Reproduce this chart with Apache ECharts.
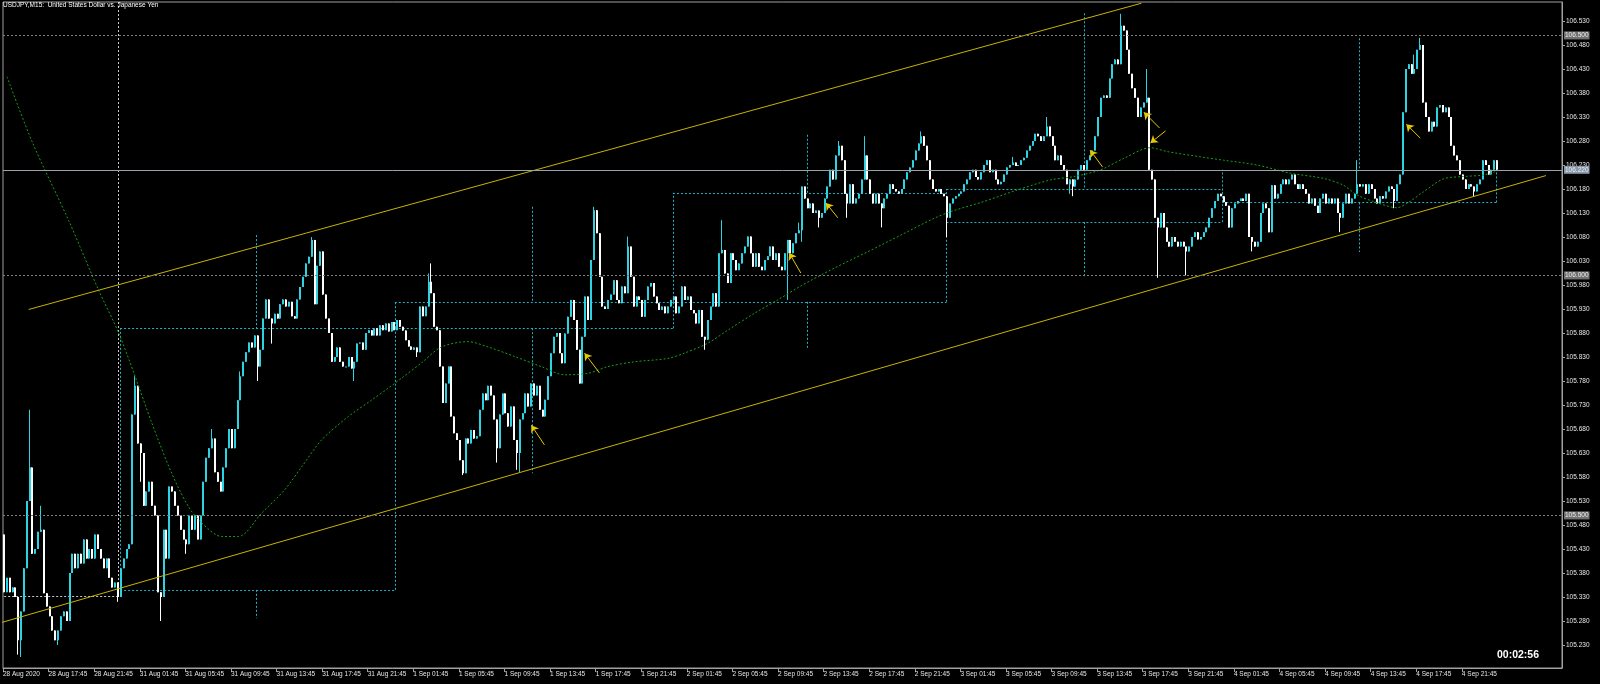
<!DOCTYPE html>
<html><head><meta charset="utf-8">
<script src="https://cdn.jsdelivr.net/npm/echarts@6/dist/echarts.min.js"></script>
<style>html,body{margin:0;padding:0;background:#000;}#c{width:1600px;height:684px;}</style>
</head><body><div id="c"></div><script>
// ---- data (bar index = 15-minute bars from 28 Aug 2020 13:45) ----
const open0 = 105.46;
const closes = [
105.34,105.37,105.34,105.35,105.33,105.24,105.30,105.39,105.53,105.60,
105.42,105.43,105.466,105.47,105.338,105.31,105.29,105.26,105.24,105.26,
105.29,105.30,105.28,105.38,105.42,105.39,105.42,105.40,105.45,105.41,
105.43,105.41,105.46,105.43,105.41,105.39,105.41,105.37,105.35,105.36,
105.33,105.39,105.41,105.43,105.44,105.71,105.77,105.65,105.63,105.52,
105.55,105.57,105.52,105.50,105.34,105.33,105.47,105.41,105.56,105.55,
105.52,105.50,105.47,105.45,105.44,105.50,105.47,105.50,105.45,105.50,
105.57,105.62,105.64,105.66,105.59,105.57,105.55,105.60,105.64,105.68,
105.64,105.68,105.74,105.79,105.82,105.84,105.86,105.85,105.875,105.81,
105.845,105.91,105.95,105.91,105.90,105.92,105.91,105.94,105.95,105.935,
105.945,105.915,105.91,105.95,105.976,105.997,106.025,106.039,106.074,105.94,
106.02,106.05,105.96,105.91,105.88,105.82,105.83,105.85,105.82,105.81,
105.81,105.83,105.806,105.82,105.858,105.86,105.845,105.88,105.886,105.875,
105.89,105.875,105.896,105.886,105.90,105.883,105.903,105.886,105.907,105.893,
105.885,105.865,105.852,105.845,105.85,105.84,105.935,105.915,105.935,105.987,
105.963,105.893,105.886,105.81,105.734,105.775,105.81,105.706,105.671,105.657,
105.615,105.588,105.66,105.65,105.678,105.66,105.665,105.72,105.754,105.74,
105.77,105.75,105.70,105.64,105.71,105.754,105.713,105.685,105.727,105.657,
105.63,105.70,105.713,105.754,105.727,105.775,105.75,105.77,105.72,105.706,
105.741,105.79,105.838,105.872,105.88,105.838,105.817,105.879,105.914,105.949,
105.907,105.845,105.775,105.872,105.956,105.907,106.032,106.136,106.088,105.997,
105.935,105.93,105.949,105.96,105.99,105.949,105.942,105.977,105.963,106.06,
105.997,105.935,105.956,105.949,105.914,105.949,105.977,105.984,105.956,105.942,
105.928,105.935,105.921,105.935,105.949,105.956,105.921,105.935,105.977,105.949,
105.956,105.928,105.921,105.90,105.928,105.872,105.866,105.907,105.935,105.963,
105.935,106.046,106.053,106.004,105.984,106.046,106.032,106.011,106.025,106.046,
106.06,106.081,106.046,106.018,106.046,106.018,106.011,106.032,106.04,106.06,
106.032,106.046,106.018,106.011,106.046,106.074,106.046,106.067,106.088,106.094,
106.185,106.16,106.14,106.15,106.13,106.135,106.12,106.13,106.16,106.185,
106.22,106.20,106.25,106.27,106.24,106.17,106.15,106.19,106.15,106.16,
106.17,106.20,106.25,106.20,106.17,106.15,106.17,106.15,106.14,106.16,
106.17,106.19,106.18,106.175,106.17,106.18,106.20,106.215,106.225,106.24,
106.26,106.275,106.29,106.27,106.24,106.20,106.18,106.175,106.18,106.17,
106.165,106.12,106.15,106.16,106.165,106.17,106.175,106.19,106.20,106.215,
106.22,106.205,106.20,106.215,106.23,106.24,106.215,106.22,106.20,106.19,
106.195,106.21,106.225,106.23,106.235,106.228,106.23,106.24,106.245,106.26,
106.27,106.28,106.295,106.29,106.28,106.29,106.31,106.29,106.27,106.24,
106.25,106.23,106.22,106.19,106.20,106.185,106.20,106.22,106.23,106.22,
106.24,106.25,106.26,106.29,106.33,106.37,106.375,106.37,106.41,106.44,
106.45,106.44,106.52,106.51,106.47,106.42,106.39,106.37,106.33,106.35,
106.36,106.37,106.22,106.20,106.12,106.10,106.13,106.10,106.07,106.06,
106.08,106.07,106.06,106.07,106.06,106.05,106.06,106.08,106.09,106.075,
106.08,106.09,106.10,106.12,106.14,106.155,106.17,106.165,106.153,106.145,
106.10,106.14,106.15,106.155,106.16,106.155,106.17,106.08,106.07,106.06,
106.07,106.13,106.15,106.14,106.09,106.188,106.16,106.17,106.19,106.20,
106.19,106.20,106.21,106.19,106.18,106.19,106.18,106.17,106.15,106.16,
106.145,106.13,106.16,106.17,106.15,106.16,106.15,106.16,106.13,106.12,
106.15,106.17,106.15,106.16,106.17,106.19,106.185,106.19,106.17,106.19,
106.18,106.16,106.15,106.165,106.16,106.175,106.185,106.18,106.155,106.19,
106.21,106.34,106.43,106.44,106.42,106.43,106.47,106.48,106.36,106.33,
106.30,106.32,106.31,106.35,106.355,106.34,106.35,106.33,106.27,106.25,
106.24,106.21,106.20,106.18,106.19,106.185,106.175,106.19,106.20,106.24,
106.23,106.21,106.22,106.24,106.22
];
const highs = [[9,105.72],[13,105.52],[46,105.79],[73,105.68],[83,105.80],[108,106.08],[149,106.004],[150,106.025],
  [207,106.143],[219,106.081],[252,106.115],[279,106.11],[293,106.28],[302,106.29],[322,106.30],[354,106.247],
  [366,106.33],[392,106.545],[401,106.43],[475,106.24],[495,106.46],[497,106.495]];
const lows = [[5,105.21],[6,105.205],[19,105.23],[40,105.32],[48,105.57],[55,105.28],[64,105.42],[89,105.78],
  [94,105.858],[123,105.78],[145,105.83],[161,105.584],[173,105.61],[180,105.595],[181,105.59],[246,105.845],
  [275,105.949],[280,106.07],[286,106.10],[296,106.12],[308,106.10],[331,106.08],[374,106.17],[375,106.165],
  [405,105.995],[415,106.0],[438,106.05],[469,106.09],[488,106.14],[516,106.165]];
const timeLabels = ['28 Aug 2020','28 Aug 17:45','28 Aug 21:45','31 Aug 01:45','31 Aug 05:45','31 Aug 09:45','31 Aug 13:45',
  '31 Aug 17:45','31 Aug 21:45','1 Sep 01:45','1 Sep 05:45','1 Sep 09:45','1 Sep 13:45','1 Sep 17:45','1 Sep 21:45',
  '2 Sep 01:45','2 Sep 05:45','2 Sep 09:45','2 Sep 13:45','2 Sep 17:45','2 Sep 21:45','3 Sep 01:45','3 Sep 05:45',
  '3 Sep 09:45','3 Sep 13:45','3 Sep 17:45','3 Sep 21:45','4 Sep 01:45','4 Sep 05:45','4 Sep 09:45','4 Sep 13:45',
  '4 Sep 17:45','4 Sep 21:45'];
const timeLabelBars = [0,16,32,48,64,80,96,112,128,144,160,176,192,208,224,240,256,272,288,304,320,336,352,368,384,400,416,432,448,464,480,496,512];
const priceTicks = [105.23,105.28,105.33,105.38,105.43,105.48,105.53,105.58,105.63,105.68,105.73,105.78,105.83,105.88,
  105.93,105.98,106.03,106.08,106.13,106.18,106.23,106.28,106.33,106.38,106.43,106.48,106.53];
const levels = [106.5, 106.0, 105.5];
const bid = 106.22;
const maLine = [[1.4,106.414],[10.4,106.276],[23.0,106.115],[33.5,105.970],[40.6,105.880],[46.4,105.789],[52.2,105.693],
  [59.2,105.588],[65.1,105.518],[69.8,105.484],[76.8,105.456],[82.6,105.456],[90.8,105.505],[98.8,105.553],[104.8,105.601],
  [111.8,105.657],[121.2,105.706],[129.3,105.740],[135.2,105.765],[139.9,105.786],[146.9,105.818],[153.9,105.851],
  [163.2,105.862],[170.2,105.851],[179.6,105.831],[188.9,105.810],[197.1,105.793],[205.3,105.796],[212.3,105.810],
  [221.6,105.820],[233.3,105.827],[239.1,105.838],[247.4,105.859],[254.4,105.886],[263.7,105.921],[271.9,105.949],
  [280.0,105.978],[291.7,106.015],[303.4,106.049],[315.1,106.084],[326.8,106.119],[332.6,106.133],[344.3,106.154],
  [356.0,106.178],[367.7,106.199],[375.9,106.206],[385.2,106.220],[393.4,106.244],[402.7,106.266],[408.6,106.258],
  [420.3,106.247],[428.4,106.240],[440.1,106.230],[451.8,106.213],[463.5,106.202],[470.4,106.188],[475.1,106.168],
  [481.0,106.154],[489.2,106.141],[492.7,106.150],[498.5,106.174],[505.5,106.201],[512.6,106.206],[519.5,106.209],[523.6,106.216]];
const channel = [[[9,105.929],[399.5,106.567]], [[-1,105.276],[541.5,106.208]]];
// day boxes: [startBar, endBar, lowPrice, highPrice]
const dayBoxes = [[41.1,137.5,105.345,105.89],[137.5,235.1,105.89,105.945],[235.1,331.1,105.945,106.172],
  [331.1,427.9,106.111,106.18],[427.9,524.2,106.152,106.22]];
// day mid marks: [bar, dayHigh, dayLow]
const dayMid = [[89.0,106.084,105.286],[185.7,106.143,105.588],[282.4,106.293,105.845],[379.4,106.546,105.994],[476.1,106.494,106.049]];
// arrows: [tailBar, tailPrice, headBar, headPrice]
const arrows = [[190.0,105.647,185.4,105.688],[209.3,105.797,204.1,105.838],[280.0,106.005,275.9,106.047],
  [293.0,106.120,288.8,106.151],[385.9,106.226,381.5,106.261],[405.9,106.307,400.4,106.340],
  [408.0,106.301,402.7,106.276],[497.4,106.286,492.5,106.315]];
const crossBar = 40.6, crossPrice = 105.331;

// ---- build ----
const hiMap = Object.fromEntries(highs), loMap = Object.fromEntries(lows);
const candles = closes.map((c, i) => {
  const o = i ? closes[i - 1] : open0;
  let h = Math.max(o, c), l = Math.min(o, c);
  if (hiMap[i] !== undefined) h = Math.max(h, hiMap[i]);
  if (loMap[i] !== undefined) l = Math.min(l, loMap[i]);
  return [i, o, c, l, h];
});
const YMIN = 105.1821, YMAX = 106.5696, XMAX = 547.14;
const boxSegs = [];
dayBoxes.forEach(b => {
  boxSegs.push([[b[0], b[2]], [b[1], b[2]]], [[b[0], b[3]], [b[1], b[3]]], [[b[0], b[2]], [b[0], b[3]]], [[b[1], b[2]], [b[1], b[3]]]);
});
dayMid.forEach((m, k) => {
  const b = dayBoxes[k];
  boxSegs.push([[m[0], m[1]], [m[0], b[3]]], [[m[0], b[2]], [m[0], m[2]]]);
});
const crossSegs = [[[crossBar, YMAX], [crossBar, crossPrice]], [[-1, crossPrice], [crossBar, crossPrice]]];
const UP = '#2cd3e2', DOWN = '#ffffff';
const FONT = 'Liberation Sans';

function renderCandle(params, api) {
  const i = api.value(0), o = api.value(1), c = api.value(2), l = api.value(3), h = api.value(4);
  const pO = api.coord([i, o]), pC = api.coord([i, c]), pL = api.coord([i, l]), pH = api.coord([i, h]);
  const col = c >= o ? UP : DOWN;
  const x = Math.round(pO[0]);
  const top = Math.min(pO[1], pC[1]), bot = Math.max(pO[1], pC[1]);
  return { type: 'group', children: [
    { type: 'line', shape: { x1: x + 0.5, y1: pH[1], x2: x + 0.5, y2: pL[1] }, style: { stroke: col, lineWidth: 1 } },
    { type: 'rect', shape: { x: x, y: top, width: 2, height: Math.max(1, bot - top) }, style: { fill: col } }
  ] };
}

const chart = echarts.init(document.getElementById('c'), null, { renderer: 'canvas' });
const lvlLabel = (bg) => ({ show: true, position: 'end', distance: 2, color: '#ececec', backgroundColor: bg,
  fontSize: 6.5, fontFamily: FONT, padding: [1, 1, 0, 1], formatter: p => p.value.toFixed(3) });
chart.setOption({
  backgroundColor: '#000000',
  animation: false,
  grid: { left: 1, top: 2, right: 38, bottom: 16, show: true, borderColor: '#a0a0a0', borderWidth: 1, backgroundColor: 'transparent' },
  xAxis: {
    type: 'value', min: 0, max: XMAX, position: 'bottom',
    splitLine: { show: false },
    axisLine: { show: true, onZero: false, lineStyle: { color: '#a0a0a0' } },
    axisTick: { show: true, length: 4, customValues: timeLabelBars, lineStyle: { color: '#a0a0a0' } },
    axisLabel: { customValues: timeLabelBars, align: 'left', margin: 3, color: '#e6e6e6', fontSize: 6.5, fontFamily: FONT,
      formatter: v => timeLabels[timeLabelBars.indexOf(Math.round(v))] || '' }
  },
  yAxis: {
    type: 'value', position: 'right', min: YMIN, max: YMAX, scale: true,
    splitLine: { show: false },
    axisLine: { show: true, onZero: false, lineStyle: { color: '#a0a0a0' } },
    axisTick: { show: true, length: 3, customValues: priceTicks, lineStyle: { color: '#a0a0a0' } },
    axisLabel: { customValues: priceTicks, margin: 4, color: '#e6e6e6', fontSize: 6.5, fontFamily: FONT,
      formatter: v => v.toFixed(3) }
  },
  series: [
    { type: 'lines', coordinateSystem: 'cartesian2d', z: 1, silent: true,
      data: boxSegs.map(s => ({ coords: s })),
      lineStyle: { color: '#1fb3c8', width: 1, type: [2, 2], opacity: 1, curveness: 0 } },
    { type: 'lines', coordinateSystem: 'cartesian2d', z: 1, silent: true,
      data: crossSegs.map(s => ({ coords: s })),
      lineStyle: { color: '#c8c8c8', width: 1, type: [2, 2], opacity: 1 } },
    { type: 'custom', name: 'USDJPY', z: 3, clip: true, renderItem: renderCandle,
      dimensions: ['i', 'open', 'close', 'low', 'high'],
      encode: { x: 0, y: [1, 2, 3, 4] }, data: candles },
    { type: 'line', z: 4, data: maLine, symbol: 'none', smooth: 0.3, silent: true,
      lineStyle: { color: '#16a016', width: 1, type: [2, 2] },
      markLine: { silent: true, symbol: ['none', 'none'], z: 6, animation: false,
        data: levels.map(v => ({ yAxis: v, lineStyle: { color: '#808080', type: [2, 2], width: 1 }, label: lvlLabel('#707070') }))
          .concat([{ yAxis: bid, lineStyle: { color: '#9aa2ac', type: 'solid', width: 1 }, label: lvlLabel('#8798ad') }]) } },
    { type: 'lines', coordinateSystem: 'cartesian2d', z: 5, silent: true,
      data: channel.map(s => ({ coords: s })),
      lineStyle: { color: '#c9b300', width: 1, opacity: 1 } },
    { type: 'lines', coordinateSystem: 'cartesian2d', z: 7, silent: true,
      symbol: ['none', 'arrow'], symbolSize: 7,
      data: arrows.map(a => ({ coords: [[a[0], a[1]], [a[2], a[3]]] })),
      lineStyle: { color: '#e8c800', width: 1, opacity: 1 } }
  ],
  graphic: [
    { type: 'text', left: 3, top: 2, z: 10, style: { text: 'USDJPY,M15:  United States Dollar vs. Japanese Yen', fill: '#ffffff', font: '6.5px "Liberation Sans"' } },
    { type: 'text', right: 61, top: 650, z: 10, style: { text: '00:02:56', fill: '#ffffff', font: 'bold 10.5px "Liberation Sans"' } }
  ]
});
</script></body></html>
